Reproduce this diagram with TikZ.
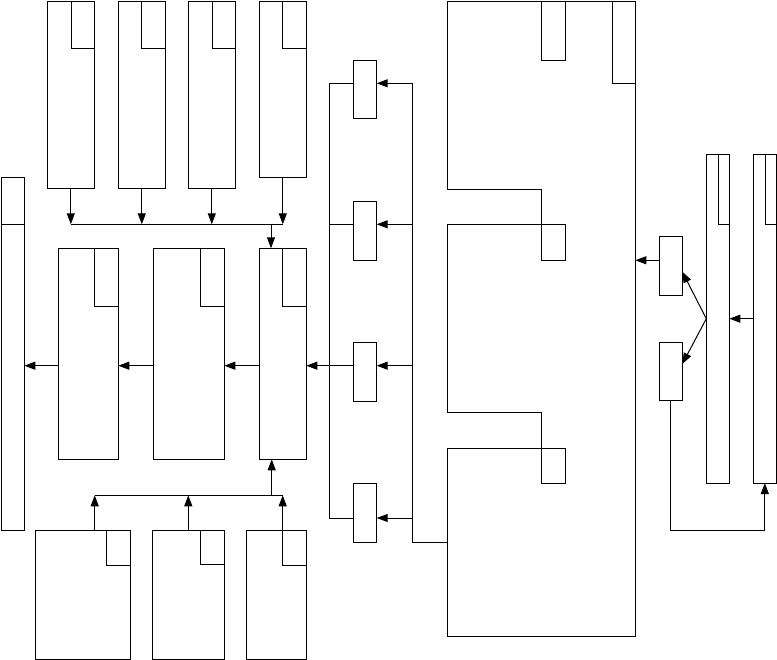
\documentclass[tikz,border=0pt]{standalone}
\usetikzlibrary{arrows.meta,fit}
\begin{document}
\begin{tikzpicture}[x=1pt,y=-1pt,
  box/.style={draw,line width=1pt,inner sep=0pt,outer sep=0pt},
  ln/.style={line width=1pt},
  arr/.style={line width=1pt,-{Triangle[length=11pt,width=8pt]}}]
\useasboundingbox (0,0) rectangle (777,660);
\newcommand\mybox[5]{\node[box,fit={(#2,#3) (#4,#5)}] (#1) {};}
% top row
\mybox{t1}{47.3}{1.3}{94.3}{188.3}\mybox{t1tab}{71.3}{1.3}{94.3}{48.3}
\mybox{t2}{118.3}{1.3}{165.3}{188.3}\mybox{t2tab}{141.3}{1.3}{165.3}{48.3}
\mybox{t3}{188.3}{1.3}{235.3}{188.3}\mybox{t3tab}{212.3}{1.3}{235.3}{48.3}
\mybox{t4}{259.3}{1.3}{306.3}{177.3}\mybox{t4tab}{282.7}{1.3}{306.3}{48.3}
% left tall box
\mybox{L}{1}{177.3}{24.3}{530.3}
% middle row
\mybox{M1}{58.3}{248.3}{118.3}{459.3}\mybox{M1tab}{94.3}{248.3}{118.3}{306.3}
\mybox{M2}{153.3}{248.3}{224.3}{459.3}\mybox{M2tab}{200.3}{248.3}{224.3}{306.3}
\mybox{M3}{259.3}{248.3}{306.3}{459.3}\mybox{M3tab}{282.7}{248.3}{306.3}{306.3}
% bottom row
\mybox{B1}{35.3}{530.3}{130.3}{659.3}\mybox{B1tab}{106.3}{530.3}{130.3}{565.3}
\mybox{B2}{152.3}{530.3}{224.3}{659.3}\mybox{B2tab}{200.3}{530.3}{224.3}{564.3}
\mybox{B3}{246.3}{530.3}{306.3}{659.3}\mybox{B3tab}{282.7}{530.3}{306.3}{565.3}
% small column
\mybox{S1}{353.3}{60.3}{376.7}{119}
\mybox{S2}{353.3}{201.3}{376.7}{260.3}
\mybox{S3}{353.3}{342.3}{376.7}{401.3}
\mybox{S4}{353.3}{483.3}{376.7}{542.3}
% right side
\mybox{R1}{659.3}{236.3}{682.3}{295.3}
\mybox{R2}{659.3}{342.3}{682.3}{401}
\mybox{P1}{706.3}{154.3}{729.3}{483}\mybox{P1tab}{718.3}{154.3}{729.3}{224.3}
\mybox{P2}{753.3}{154.3}{776.3}{483}\mybox{P2tab}{765.7}{154.3}{776.3}{224.3}
% big structure
\draw[ln] (447.3,189.3) -- (447.3,1.3) -- (635.3,1.3) -- (635.3,636.3) -- (447.3,636.3)
  -- (447.3,448.3) -- (565.3,448.3) -- (565.3,483.3) -- (541.3,483.3) -- (541.3,412.3)
  -- (447.3,412.3) -- (447.3,224.3) -- (565.3,224.3) -- (565.3,260.3) -- (541.3,260.3)
  -- (541.3,189.3) -- cycle;
\draw[ln] (541.3,1.3) -- (541.3,60.3) -- (565.3,60.3) -- (565.3,1.3);
\draw[ln] (612.7,1.3) -- (612.7,83.3) -- (635.3,83.3);
\coordinate (Gin) at (447.3,542.3);
\coordinate (Rin) at (635.3,260.3);
% helper coordinates
\coordinate (busT) at (0,224.3);
\coordinate (busB) at (0,495.3);
\coordinate (y1) at (0,83.3);
\coordinate (y2) at (0,224.3);
\coordinate (y3) at (0,365.7);
\coordinate (y4) at (0,518);
\coordinate (xl) at (329.3,0);
\coordinate (xr) at (412.3,0);
\coordinate (xb1) at (94.7,0);
\coordinate (j1) at (271,224.3);
\coordinate (j2) at (271.7,495.3);
\coordinate (yR1) at (0,260.3);
\coordinate (yP) at (0,318.7);
\coordinate (yb) at (0,530);
\coordinate (r1t) at (682.3,271.7);
\coordinate (r2t) at (682.3,364);
% divider of left box
\draw[ln] (L.west |- y2) -- (L.east |- y2);
% top connectors
\draw[arr] (t1.south) -- (t1.south |- busT);
\draw[arr] (t2.south) -- (t2.south |- busT);
\draw[arr] (t3.south) -- (t3.south |- busT);
\draw[arr] (t4.south) -- (t4.south |- busT);
\draw[ln] (t1.south |- busT) -- (t4.south |- busT);
\draw[arr] (j1) -- (j1 |- M3.north);
% bottom connectors
\draw[arr] (xb1 |- B1.north) -- (xb1 |- busB);
\draw[arr] (B2.north) -- (B2.north |- busB);
\draw[arr] (B3tab.north west) -- (B3tab.north west |- busB);
\draw[ln] (xb1 |- busB) -- (B3tab.north west |- busB);
\draw[arr] (j2) -- (j2 |- M3.south);
% middle row connectors
\draw[arr] (M1.west |- y3) -- (L.east |- y3);
\draw[arr] (M2.west |- y3) -- (M1.east |- y3);
\draw[arr] (M3.west |- y3) -- (M2.east |- y3);
\draw[arr] (S3.west |- y3) -- (M3.east |- y3);
% small column connectors
\draw[ln] (xl |- y1) -- (xl |- y4);
\draw[ln] (xr |- y1) -- (xr |- Gin) -- (Gin);
\draw[ln] (xl |- y1) -- (S1.west |- y1);
\draw[ln] (xl |- y2) -- (S2.west |- y2);
\draw[ln] (xl |- y4) -- (S4.west |- y4);
\draw[arr] (xr |- y1) -- (S1.east |- y1);
\draw[arr] (xr |- y2) -- (S2.east |- y2);
\draw[arr] (xr |- y3) -- (S3.east |- y3);
\draw[arr] (xr |- y4) -- (S4.east |- y4);
% right side connectors
\draw[arr] (R1.west |- yR1) -- (Rin);
\draw[arr] (P2.west |- yP) -- (P1.east |- yP);
\draw[arr] (P1.west |- yP) -- (r1t);
\draw[arr] (P1.west |- yP) -- (r2t);
\draw[arr] (R2.south) -- (R2.south |- yb) -- (P2.south |- yb) -- (P2.south);
\end{tikzpicture}
\end{document}
